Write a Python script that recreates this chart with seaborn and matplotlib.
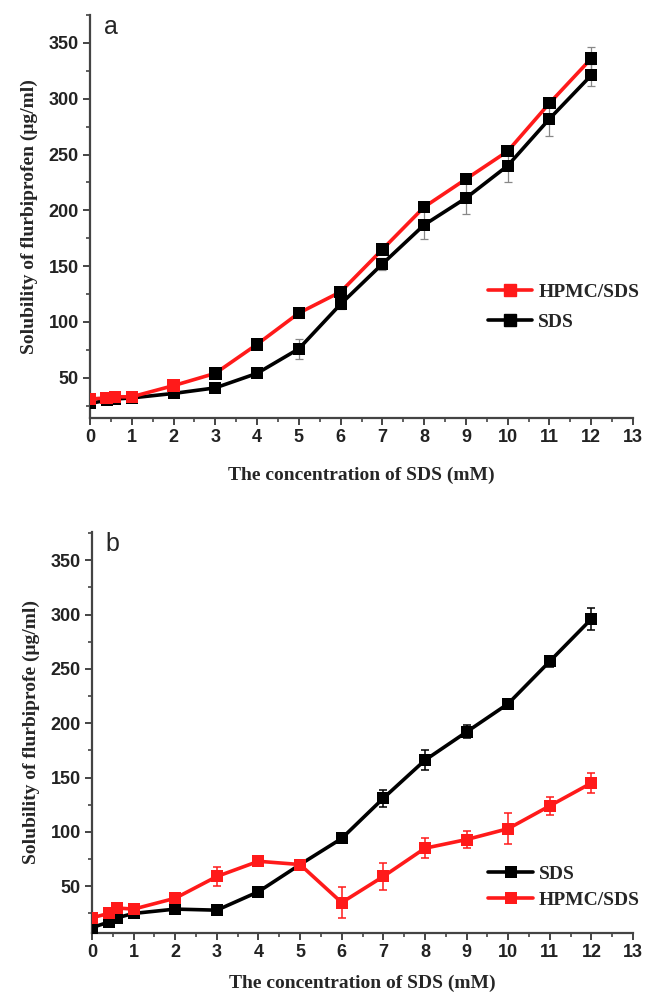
import numpy as np
import pandas as pd
import matplotlib
matplotlib.use("Agg")
import matplotlib.pyplot as plt
import seaborn as sns
from matplotlib.ticker import MultipleLocator

sns.set_theme(style="white")
plt.rcParams['font.family'] = ['Liberation Sans', 'DejaVu Sans']

# SDS concentration (mM)
conc = [0, 0.4, 0.6, 1, 2, 3, 4, 5, 6, 7, 8, 9, 10, 11, 12]

# Panel a: solubility (ug/ml)
a_sds = [27, 30, 31, 32, 36, 41, 54, 76, 116, 152, 187, 211, 240, 282, 321]
a_sds_err = [1, 1, 1, 1, 2, 2, 2, 9, 4, 5, 13, 14, 15, 15, 10]
a_hpmc = [31, 32, 33, 33, 43, 54, 80, 108, 127, 165, 203, 228, 253, 296, 336]
a_hpmc_err = [1, 1, 1, 1, 1, 1, 1, 2, 2, 3, 3, 3, 3, 3, 10]

# Panel b: solubility (ug/ml)
b_sds = [12, 17, 21, 25, 29, 28, 45, 70, 94, 131, 166, 192, 218, 257, 296]
b_sds_err = [1, 1, 1, 1, 1, 1, 2, 2, 3, 8, 9, 6, 4, 5, 10]
b_hpmc = [21, 25, 30, 29, 39, 59, 73, 70, 35, 59, 85, 93, 103, 124, 145]
b_hpmc_err = [1, 2, 2, 2, 2, 9, 4, 3, 14, 12, 9, 8, 14, 8, 9]

RED = "#ff1a1a"
BLACK = "#000000"
SPINE = "#444444"

fig = plt.figure(figsize=(6.48, 10.0), dpi=100)
ax_a = fig.add_axes([90/648, 1-418/1000, (633-90)/648, (418-15)/1000])
ax_b = fig.add_axes([92/648, 1-933/1000, (633-92)/648, (933-532)/1000])

serif_bold = dict(family=['Liberation Serif', 'DejaVu Serif'], weight='bold')
legend_font = dict(family='Liberation Serif', weight='bold', size=14)


def style_axes(ax, ylim, ylabel, tag, xpad):
    ax.set_xlim(0, 13)
    ax.set_ylim(*ylim)
    ax.xaxis.set_major_locator(MultipleLocator(1))
    ax.xaxis.set_minor_locator(MultipleLocator(0.5))
    ax.yaxis.set_major_locator(MultipleLocator(50))
    ax.yaxis.set_minor_locator(MultipleLocator(25))
    for side in ('top', 'right'):
        ax.spines[side].set_visible(False)
    for side in ('left', 'bottom'):
        ax.spines[side].set_color(SPINE)
        ax.spines[side].set_linewidth(1.6)
    ax.tick_params(which='major', direction='out', length=5, width=1.4,
                   color=SPINE, bottom=True, left=True, labelsize=13, pad=3)
    ax.tick_params(which='minor', direction='out', length=3, width=1.2,
                   color=SPINE, bottom=True, left=True)
    ax.set_yticks([t for t in range(50, 351, 50)])
    for lab in ax.get_xticklabels() + ax.get_yticklabels():
        lab.set_fontweight('bold')
        lab.set_color('#222222')
    ax.set_xlabel("The concentration of SDS (mM)", fontsize=14,
                  labelpad=xpad, **serif_bold)
    ax.set_ylabel(ylabel, fontsize=14, labelpad=8, **serif_bold)
    ax.text(0.025, 1.0, tag, transform=ax.transAxes, fontsize=18,
            va='top', ha='left')
    ax.grid(False)


# ---- panel a ----
df_a = pd.DataFrame({"conc": conc, "sds": a_sds, "hpmc": a_hpmc})
ax_a.errorbar(conc, a_sds, yerr=a_sds_err, fmt='none', ecolor='#888888',
              elinewidth=0.9, capsize=3, capthick=0.9, zorder=2)
ax_a.errorbar(conc, a_hpmc, yerr=a_hpmc_err, fmt='none', ecolor='#888888',
              elinewidth=0.9, capsize=3, capthick=0.9, zorder=2)
sns.lineplot(data=df_a, x="conc", y="sds", ax=ax_a, color=BLACK, lw=2.6,
             marker='s', markersize=8, markeredgewidth=0, label="SDS",
             zorder=3)
sns.lineplot(data=df_a, x="conc", y="hpmc", ax=ax_a, color=RED, lw=2.6,
             label="HPMC/SDS", zorder=4)
# HPMC/SDS point markers: red at low concentration, black from 3 mM
pt_colors = [RED if c < 3 else BLACK for c in conc]
sns.scatterplot(data=df_a, x="conc", y="hpmc", ax=ax_a, marker='s', s=80,
                c=pt_colors, linewidth=0, zorder=5, legend=False)

h_sds_a = plt.Line2D([], [], color=BLACK, lw=2.6, marker='s', markersize=8)
h_hpmc_a = plt.Line2D([], [], color=RED, lw=2.6, marker='s', markersize=8)
ax_a.legend([h_hpmc_a, h_sds_a], ["HPMC/SDS", "SDS"],
            loc='center left', bbox_to_anchor=(0.70, 0.275), frameon=False,
            prop=legend_font, handlelength=2.3, handletextpad=0.3,
            labelspacing=0.65)
style_axes(ax_a, (14, 375), "Solubility of flurbiprofen (\u03bcg/ml)", "a",
           xpad=14.5)

# ---- panel b ----
df_b = pd.DataFrame({"conc": conc, "sds": b_sds, "hpmc": b_hpmc})
ax_b.errorbar(conc, b_sds, yerr=b_sds_err, fmt='none', ecolor=BLACK,
              elinewidth=1.1, capsize=3, capthick=1.1, zorder=2)
ax_b.errorbar(conc, b_hpmc, yerr=b_hpmc_err, fmt='none', ecolor=RED,
              elinewidth=1.1, capsize=3, capthick=1.1, zorder=2)
sns.lineplot(data=df_b, x="conc", y="sds", ax=ax_b, color=BLACK, lw=2.6,
             marker='s', markersize=8, markeredgewidth=0, label="SDS",
             zorder=3)
sns.lineplot(data=df_b, x="conc", y="hpmc", ax=ax_b, color=RED, lw=2.6,
             marker='s', markersize=8, markeredgewidth=0, label="HPMC/SDS",
             zorder=4)
ax_b.legend(loc='center left', bbox_to_anchor=(0.70, 0.115), frameon=False,
            prop=legend_font, handlelength=2.3, handletextpad=0.3,
            labelspacing=0.45)
style_axes(ax_b, (7, 376), "Solubility of flurbiprofe (\u03bcg/ml)", "b",
           xpad=9.5)

fig.savefig("out.png", dpi=100, facecolor='white')
